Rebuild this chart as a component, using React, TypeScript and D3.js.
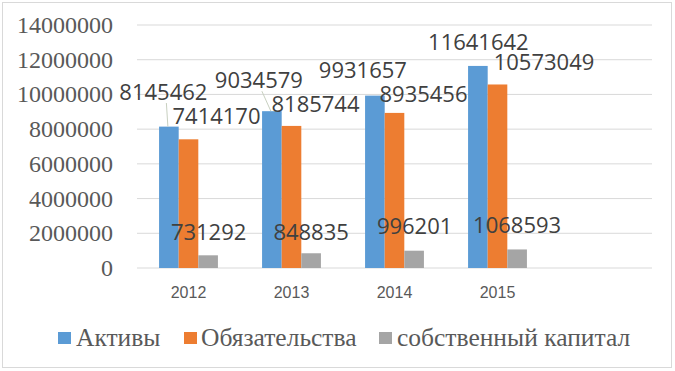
import React from "react";
import * as d3 from "d3";

const categories = ["2012", "2013", "2014", "2015", ""];
const seriesNames = ["Активы", "Обязательства", "собственный капитал"];
const aktivy = [8145462, 9034579, 9931657, 11641642];
const obyazatelstva = [7414170, 8185744, 8935456, 10573049];
const kapital = [731292, 848835, 996201, 1068593];
const yTicks = [0, 2000000, 4000000, 6000000, 8000000, 10000000, 12000000, 14000000];

// manual label offsets (dx, dy) from default outside-end position
const labelDx = [
  [-5.5, -13, -12, 0.5],
  [28, 24, 29, 46.5],
  [0.5, 0, 0.5, 0],
];
const labelDy = [
  [-20.6, -17, -11.6, -10],
  [-9, -8, -5, -8.5],
  [-9.3, -7, -10.7, -10.5],
];

const colors = ["#5B9BD5", "#ED7D31", "#A5A5A5"];

export default function App() {
  const W = 675;
  const H = 371;
  const seriesValues = [aktivy, obyazatelstva, kapital];
  const x = d3.scaleBand<string>().domain(categories).range([137, 652]).paddingInner(0).paddingOuter(0);
  const y = d3.scaleLinear().domain([0, 14000000]).range([268, 25]);
  const groupW = x.bandwidth() * (3 / 5.25);
  const x1 = d3.scaleBand<number>().domain([0, 1, 2]).range([0, groupW]).padding(0);
  const groupOff = (x.bandwidth() - groupW) / 2;

  const legendItems = [
    { sx: 58, tx: 76 },
    { sx: 184, tx: 201 },
    { sx: 379, tx: 397 },
  ];

  return (
    <svg width={W} height={H} style={{ position: "absolute", left: 0, top: 0, background: "#fff" }}>
      <rect x={2.5} y={2.5} width={669} height={365} fill="#fff" stroke="#D9D9D9" strokeWidth={1} />
      {yTicks.map((t) => (
        <g key={t}>
          <line x1={137} x2={652} y1={y(t)} y2={y(t)} stroke="#D9D9D9" strokeWidth={1} />
          <text
            x={113}
            y={y(t) + 8}
            textAnchor="end"
            fontFamily="'Liberation Serif', 'Times New Roman', serif"
            fontSize={24}
            fill="#595959"
          >
            {t}
          </text>
        </g>
      ))}
      {seriesValues.map((vals, s) =>
        vals.map((v, i) => {
          const bx = (x(categories[i]) as number) + groupOff + (x1(s) as number);
          const bw = x1.bandwidth();
          return (
            <rect key={`b${s}-${i}`} x={bx} y={y(v)} width={bw} height={y(0) - y(v)} fill={colors[s]} />
          );
        })
      )}
      {seriesValues.map((vals, s) =>
        vals.map((v, i) => {
          const bx = (x(categories[i]) as number) + groupOff + (x1(s) as number) + x1.bandwidth() / 2;
          const lx = bx + labelDx[s][i];
          const ly = y(v) - 6 + labelDy[s][i];
          const showLeader = labelDy[s][i] < -15;
          return (
            <g key={`l${s}-${i}`}>
              {showLeader && (
                <line x1={lx + 3} y1={ly + 3} x2={bx - 1} y2={y(v)} stroke="#C8D0C0" strokeWidth={1} />
              )}
              <text
                x={lx}
                y={ly}
                textAnchor="middle"
                fontFamily="'Open Sans', 'Liberation Sans', sans-serif"
                fontSize={22}
                fill="#404040"
              >
                {v}
              </text>
            </g>
          );
        })
      )}
      {categories
        .filter((c) => c !== "")
        .map((c) => (
          <text
            key={c}
            x={(x(c) as number) + x.bandwidth() / 2}
            y={298}
            textAnchor="middle"
            fontFamily="'Liberation Sans', Arial, sans-serif"
            fontSize={16}
            fill="#595959"
          >
            {c}
          </text>
        ))}
      {seriesNames.map((n, s) => (
        <g key={n}>
          <rect x={legendItems[s].sx} y={332} width={13} height={12} fill={colors[s]} />
          <text
            x={legendItems[s].tx}
            y={346}
            fontFamily="'Liberation Serif', 'Times New Roman', serif"
            fontSize={25.5}
            fill="#595959"
          >
            {n}
          </text>
        </g>
      ))}
    </svg>
  );
}
